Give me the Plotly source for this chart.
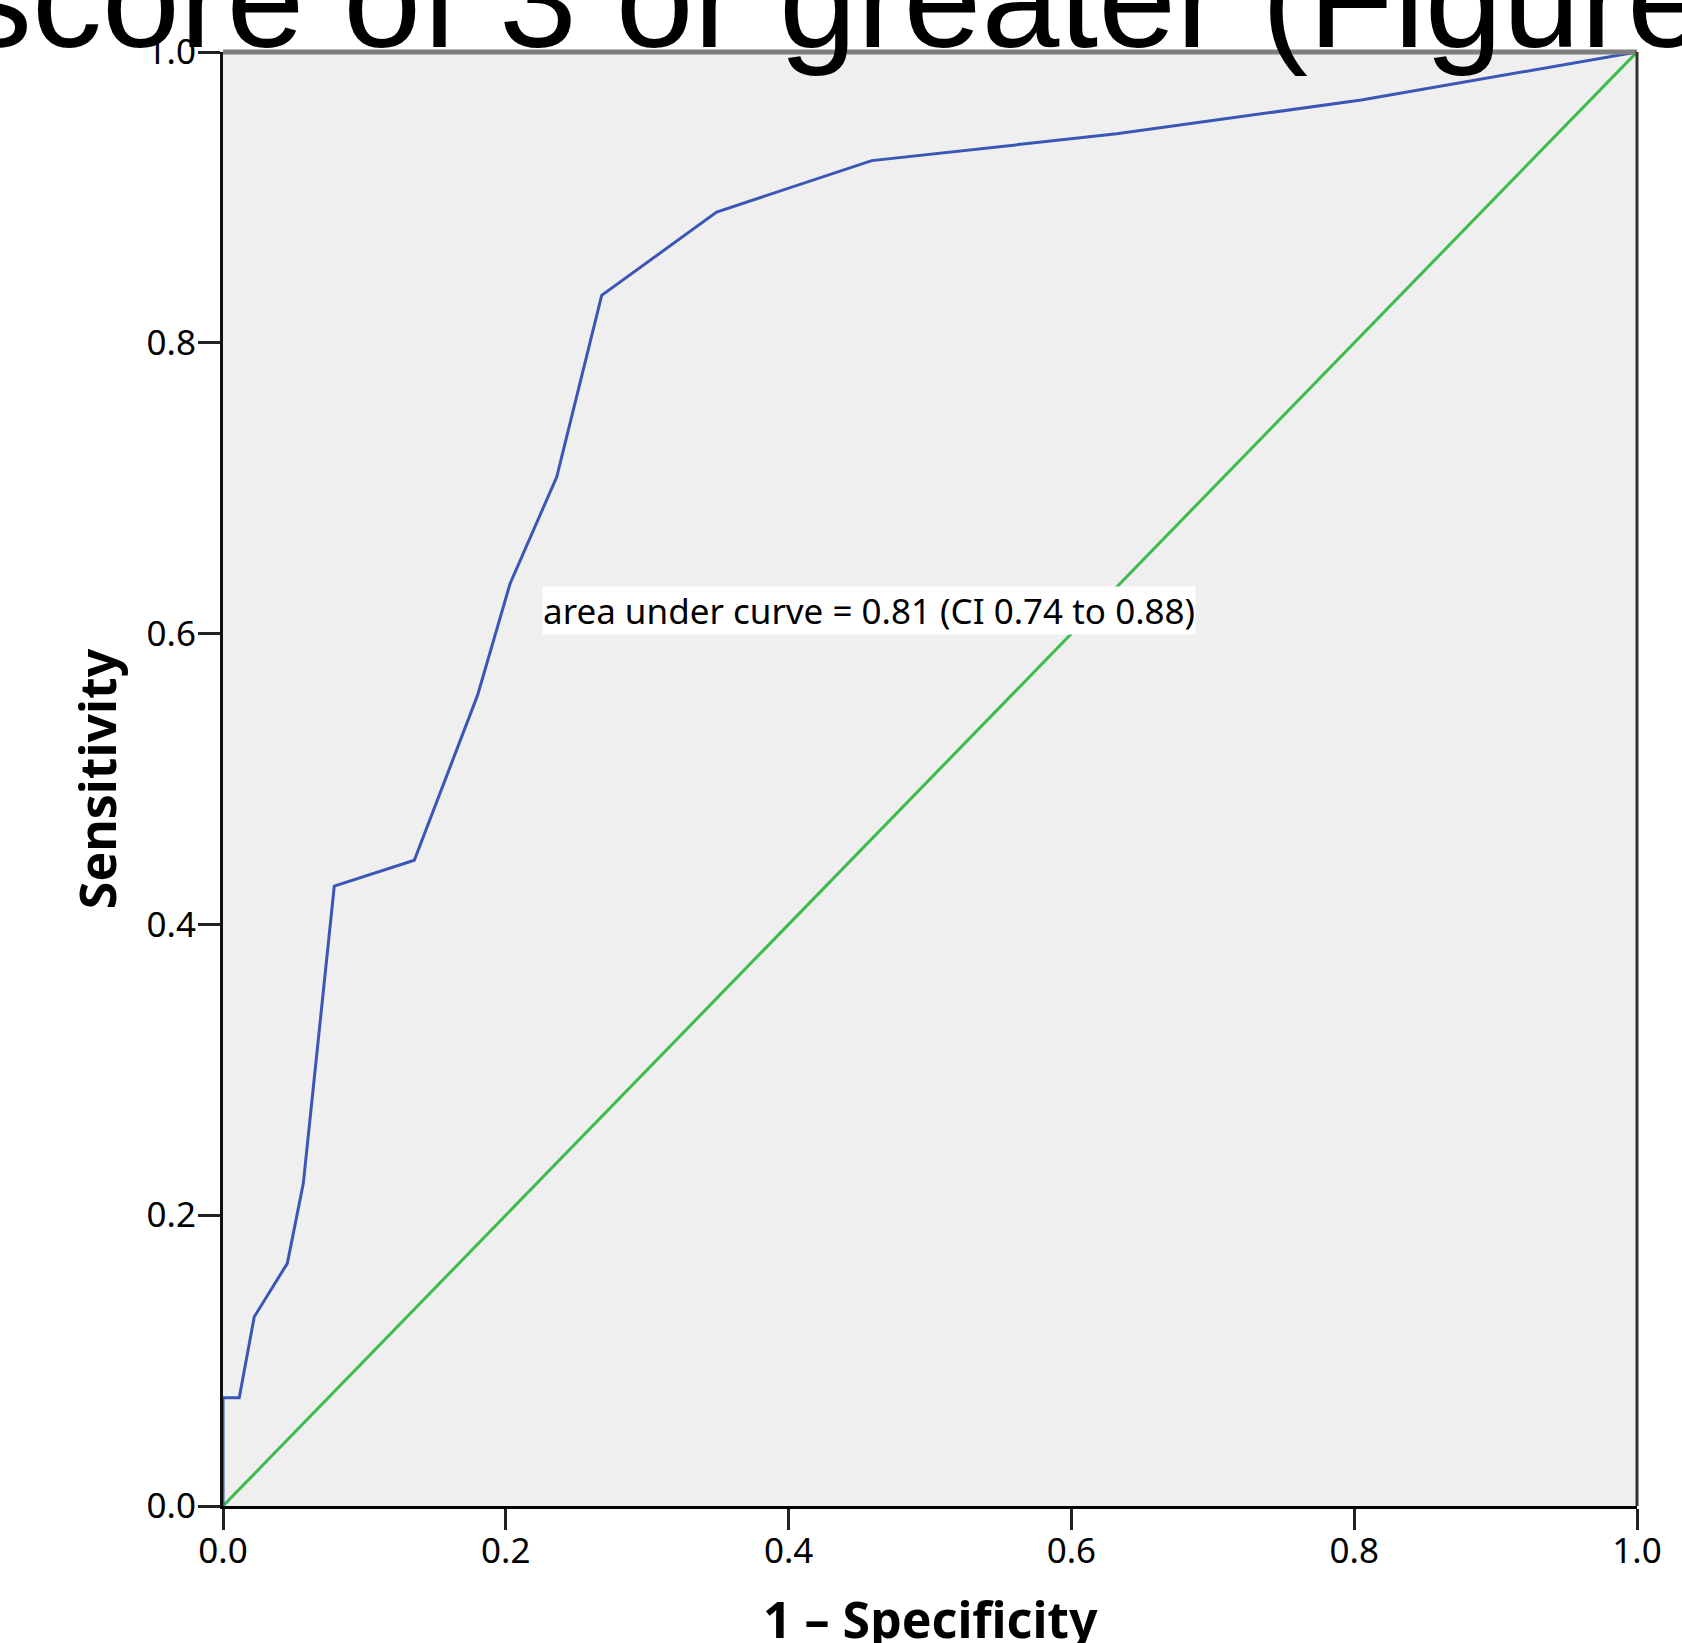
import plotly.graph_objects as go

# ROC curve data (1 - specificity, sensitivity)
fpr = [0.0, 0.0, 0.0115, 0.0221, 0.0455, 0.0568, 0.0787, 0.1353, 0.180, 0.203,
       0.236, 0.2678, 0.3491, 0.4588, 0.632, 0.805, 1.0]
tpr = [0.0, 0.0745, 0.0745, 0.1301, 0.1669, 0.2219, 0.4263, 0.4441, 0.5575, 0.6343,
       0.7077, 0.8326, 0.8899, 0.9253, 0.9437, 0.967, 1.0]

ref_x = [0.0, 1.0]
ref_y = [0.0, 1.0]

tick_vals = [0.0, 0.2, 0.4, 0.6, 0.8, 1.0]
tick_text = ["0.0", "0.2", "0.4", "0.6", "0.8", "1.0"]

title_text = "score of 3 or greater (Figure"
auc_text = "area under curve = 0.81 (CI 0.74 to 0.88)"
x_title = "1 \u2013 Specificity"
y_title = "Sensitivity"

W, H = 1682, 1643
L, R, T, B = 223, 45, 52, 137
PW = W - L - R
PH = H - T - B

fig = go.Figure()
fig.add_trace(go.Scatter(x=ref_x, y=ref_y, mode="lines",
                         line=dict(color="#3dbb4c", width=3),
                         cliponaxis=False, showlegend=False, hoverinfo="skip"))
fig.add_trace(go.Scatter(x=fpr, y=tpr, mode="lines",
                         line=dict(color="#3b56b5", width=3),
                         cliponaxis=False, showlegend=False))

tick_font = dict(family="Noto Sans", size=35, color="black")
title_font = dict(family="Noto Sans", size=50, color="black")

fig.update_layout(
    width=W, height=H,
    margin=dict(l=L, r=R, t=T, b=B, autoexpand=False),
    paper_bgcolor="white",
    plot_bgcolor="#efefef",
    xaxis=dict(range=[0, 1], tickvals=tick_vals, ticktext=tick_text,
               ticks="outside", ticklen=21, tickwidth=3, tickcolor="#222",
               showline=True, linecolor="black", linewidth=3,
               showgrid=False, zeroline=False, tickfont=tick_font,
               ticklabelstandoff=-9),
    yaxis=dict(range=[0, 1], tickvals=tick_vals, ticktext=tick_text,
               ticks="outside", ticklen=22, tickwidth=3, tickcolor="#222",
               showline=True, linecolor="#111", linewidth=3,
               showgrid=False, zeroline=False, tickfont=tick_font,
               ticklabelstandoff=-5,
               title=dict(text="<b>" + y_title + "</b>", font=title_font, standoff=15)),
    shapes=[
        dict(type="line", xref="paper", yref="paper", x0=0, x1=1, y0=1, y1=1,
             line=dict(color="#7f7f7f", width=5)),
        dict(type="line", xref="paper", yref="paper", x0=1, x1=1, y0=0, y1=1,
             line=dict(color="#333333", width=3)),
    ],
    annotations=[
        dict(text=auc_text, xref="x", yref="y", x=0.2255, y=0.616,
             xanchor="left", yanchor="middle", showarrow=False,
             bgcolor="white", borderpad=0,
             font=dict(family="Noto Sans", size=35, color="black")),
        dict(text="<b>" + x_title + "</b>", xref="paper", yref="paper",
             x=0.5, y=-0.0780, xanchor="center", yanchor="middle",
             showarrow=False, borderpad=0, font=title_font),
        dict(text=title_text, xref="paper", yref="paper",
             x=(-39.5 - L) / PW, y=(PH - (77.7 - T)) / PH,
             xanchor="left", yanchor="bottom", showarrow=False, borderpad=0,
             font=dict(family="Liberation Sans", size=140, color="black")),
    ],
)

fig.write_html("out.html", config={"displayModeBar": False},
               post_script="document.body.style.margin='0';")
